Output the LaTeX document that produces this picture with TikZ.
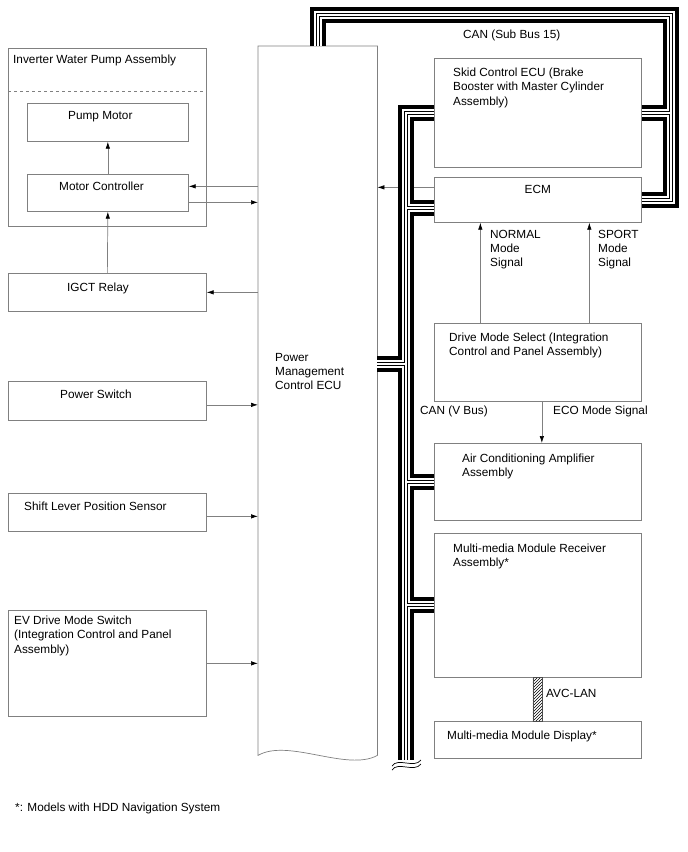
\documentclass[tikz,border=0pt]{standalone}
\usepackage{fontspec}
\setmainfont{Liberation Sans}
\usetikzlibrary{positioning,arrows.meta,patterns}

\begin{document}
\begin{tikzpicture}[
    x=1pt, y=-1pt,
    >={Latex[length=7pt,width=4.5pt,color=black]},
    every node/.style={font=\fontsize{11.8}{14.2}\selectfont, align=left},
    box/.style={draw=black!50, line width=.7pt, anchor=north west, inner sep=0pt},
    lbox/.style={box, minimum width=198pt},
    rbox/.style={box, minimum width=207pt},
    txt/.style={inner sep=0pt},
    arr/.style={->, draw=black!50, line width=.7pt}
]
\useasboundingbox (0,0) rectangle (688,852);

% left column
\node[lbox, minimum height=178pt] (iwp) at (8,48) {};
\node[box, minimum width=161pt, minimum height=38pt] (pm) at (27,103) {};
\node[box, minimum width=161pt, minimum height=37pt] (mc) at (27,174) {};
\node[lbox, minimum height=38pt] (igct) at (8,273) {};
\node[lbox, minimum height=39pt] (psw) at (8,381) {};
\node[lbox, minimum height=38pt] (slps) at (8,493) {};
\node[lbox, minimum height=106pt] (evsw) at (8,610) {};
\draw[draw=black!50, line width=.7pt, dashed] (iwp.west |- 0,91) -- (iwp.east |- 0,91);

\node[txt, below right=7pt and 5pt of iwp.north west] (iwptxt) {Inverter Water Pump Assembly};
\node[txt, below right=8pt and 41pt of pm.north west] (pmtxt) {Pump Motor};
\node[txt, below right=8pt and 32pt of mc.north west] (mctxt) {Motor Controller};
\node[txt, below right=10pt and 59pt of igct.north west] (igcttxt) {IGCT Relay};
\node[txt, below right=9pt and 52pt of psw.north west] (pswtxt) {Power Switch};
\node[txt, below right=9pt and 16pt of slps.north west] (slpstxt) {Shift Lever Position Sensor};
\node[txt, below right=6pt and 6pt of evsw.north west] (evswtxt) {EV Drive Mode Switch\\(Integration Control and Panel\\Assembly)};

% power management control ECU
\node[anchor=north west, inner sep=0pt, minimum width=119pt, minimum height=709pt] (pmc) at (258,46) {};
\draw[draw=black!50, line width=.7pt] (pmc.south east) -- (pmc.north east) -- (pmc.north west) -- (pmc.south west)
  .. controls (288,738) and (347,772) .. (pmc.south east);
\node[txt, anchor=north west] (pmctxt) at (275,353) {Power\\Management\\Control ECU};

% right column
\node[rbox, minimum height=109pt] (skid) at (434,58) {};
\node[rbox, minimum height=45pt] (ecm) at (434,177) {};
\node[rbox, minimum height=78pt] (dms) at (434,323) {};
\node[rbox, minimum height=77pt] (acamp) at (434,443) {};
\node[rbox, minimum height=144pt] (mmr) at (434,533) {};
\node[rbox, minimum height=37pt] (mmd) at (434,721) {};

\node[txt, below right=10pt and 19pt of skid.north west] (skidtxt) {Skid Control ECU (Brake\\Booster with Master Cylinder\\Assembly)};
\node[txt, below=8pt of ecm.north] (ecmtxt) {ECM};
\node[txt, below right=10pt and 15pt of dms.north west] (dmstxt) {Drive Mode Select (Integration\\Control and Panel Assembly)};
\node[txt, below right=11pt and 28pt of acamp.north west] (actxt) {Air Conditioning Amplifier\\Assembly};
\node[txt, below right=11pt and 19pt of mmr.north west] (mmrtxt) {Multi-media Module Receiver\\Assembly*};
\node[txt, below right=10pt and 13pt of mmd.north west] (mmdtxt) {Multi-media Module Display*};

% signal lines
\coordinate (mcin) at ([yshift=6.5pt]mc.east);
\coordinate (mcout) at ([yshift=-9.5pt]mc.east);
\coordinate (pswout) at ([yshift=-4pt]psw.east);
\coordinate (slpsout) at ([yshift=-4pt]slps.east);
\draw[arr] (mcin -| pmc.west) -- (mcin);
\draw[arr] (mcout) -- (mcout -| pmc.west);
\draw[arr] (mc.north) -- (pm.south);
\draw[arr] (igct.north) -- (mc.south);
\draw[arr] (igct.east -| pmc.west) -- (igct.east);
\draw[arr] (pswout) -- (pswout -| pmc.west);
\draw[arr] (slpsout) -- (slpsout -| pmc.west);
\draw[arr] (evsw.east) -- (evsw.east -| pmc.west);

\coordinate (ecmout) at ([yshift=12.5pt]ecm.west);
\draw[arr] (ecmout) -- (ecmout -| pmc.east);
\coordinate (nrm) at ([xshift=-57.5pt]dms.north);
\coordinate (spt) at ([xshift=51.5pt]dms.north);
\coordinate (eco) at ([xshift=4pt]dms.south);
\draw[arr] (nrm) -- (nrm |- ecm.south);
\draw[arr] (spt) -- (spt |- ecm.south);
\draw[arr] (eco) -- (eco |- acamp.north);
\node[txt, anchor=north west] (nrmtxt) at (490,230) {NORMAL\\Mode\\Signal};
\node[txt, anchor=north west] (spttxt) at (598,230) {SPORT\\Mode\\Signal};
\node[txt, anchor=north west] (ecotxt) at (553,406) {ECO Mode Signal};

% CAN buses
\coordinate (vbot) at (406,760);
\coordinate (sbtr) at (671,15);
\foreach \lw/\lc in {16pt/black, 8pt/white, 4pt/black, 2pt/white}{
  \draw[line width=\lw, draw=\lc, line join=miter]
    (pmc.north) |- (sbtr) |- (ecm.east)
    (skid.east) -- (skid.east -| sbtr)
    (skid.west) -| (vbot)
    ([yshift=-8.5pt]ecm.west) -- ++(-28pt,0)
    (vbot |- 0,364) -- (pmc.east |- 0,364)
    (vbot |- acamp.west) -- (acamp.west)
    (vbot |- mmr.west) -- (mmr.west);
}
\draw[line width=.7pt] (392,766) .. controls (398,757) and (414,769) .. (421,760);
\draw[line width=.7pt] (392,770) .. controls (398,761) and (414,773) .. (421,764);
\node[txt, anchor=north west] (sbtxt) at (463,30) {CAN (Sub Bus 15)};
\node[txt, anchor=north west] (vbtxt) at (420,406) {CAN (V Bus)};

% AVC-LAN
\draw[draw=black!70, line width=.7pt, pattern=north east lines] ([xshift=-5pt]mmr.south) rectangle ([xshift=4.5pt]mmd.north);
\node[txt, anchor=north west] (avctxt) at (546,689) {AVC-LAN};

\node[txt, anchor=north west] (foot) at (15,803) {*: Models with HDD Navigation System};
\end{tikzpicture}
\end{document}
